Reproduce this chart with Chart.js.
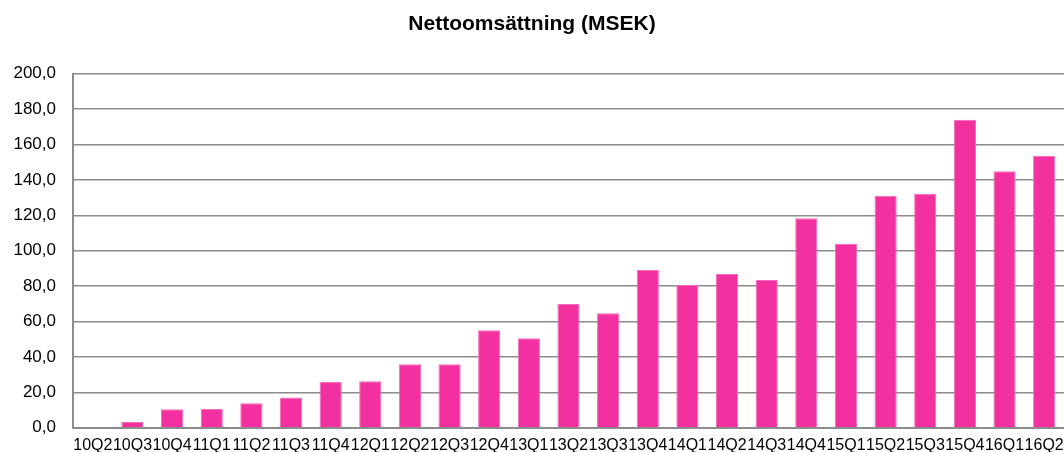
<!DOCTYPE html>
<html>
<head>
<meta charset="utf-8">
<script src="https://cdn.jsdelivr.net/npm/chart.js@4.4.0/dist/chart.umd.min.js"></script>
<style>
  html, body { margin: 0; padding: 0; background: #fff; overflow: hidden; }
  canvas { display: block; }
</style>
</head>
<body>
<canvas id="c" width="1064" height="452"></canvas>
<script>
const categories = ["10Q2","10Q3","10Q4","11Q1","11Q2","11Q3","11Q4","12Q1","12Q2","12Q3","12Q4","13Q1","13Q2","13Q3","13Q4","14Q1","14Q2","14Q3","14Q4","15Q1","15Q2","15Q3","15Q4","16Q1","16Q2"];
const netSales = [0, 3.2, 10.4, 10.6, 13.8, 17.0, 25.8, 26.2, 35.8, 35.8, 55.0, 50.5, 69.9, 64.6, 89.1, 80.6, 86.8, 83.4, 118.3, 103.8, 131.1, 132.2, 174.0, 144.9, 153.5];
const chartTitle = "Nettoomsättning (MSEK)";
const yMin = 0, yMax = 200, yStep = 20;

new Chart(document.getElementById('c'), {
  type: 'bar',
  data: {
    labels: categories,
    datasets: [{
      data: netSales,
      backgroundColor: '#F2309F',
      borderColor: '#F66DBB',
      borderWidth: 1,
      barPercentage: 0.56,
      categoryPercentage: 1.0
    }]
  },
  options: {
    responsive: false,
    animation: false,
    devicePixelRatio: 1,
    layout: { padding: 0 },
    plugins: {
      legend: { display: false },
      tooltip: { enabled: false },
      title: {
        display: true,
        text: chartTitle,
        color: '#000',
        font: { family: '"Liberation Sans", Arial, sans-serif', size: 21, weight: 'bold' },
        padding: { top: 11.5, bottom: 37 }
      }
    },
    scales: {
      x: {
        grid: { display: false, drawTicks: false },
        border: { display: true, color: '#8c8c8c', width: 2 },
        ticks: {
          autoSkip: false, maxRotation: 0, minRotation: 0,
          color: '#000', padding: 8.5,
          font: { family: '"Liberation Sans", Arial, sans-serif', size: 16 }
        },
        afterFit: (s) => { s.height = 24.3; s.paddingLeft = 0; s.paddingRight = 0; }
      },
      y: {
        min: yMin, max: yMax,
        grid: { color: '#8c8c8c', lineWidth: 1.5, drawTicks: false },
        border: { display: true, color: '#8c8c8c', width: 2 },
        ticks: {
          stepSize: yStep, color: '#000', padding: 17,
          font: { family: '"Liberation Sans", Arial, sans-serif', size: 17 },
          callback: (v) => Number(v).toFixed(1).replace('.', ',')
        },
        afterFit: (s) => { s.width = 73; s.paddingTop = 0; s.paddingBottom = 0; }
      }
    }
  }
});
</script>
</body>
</html>
